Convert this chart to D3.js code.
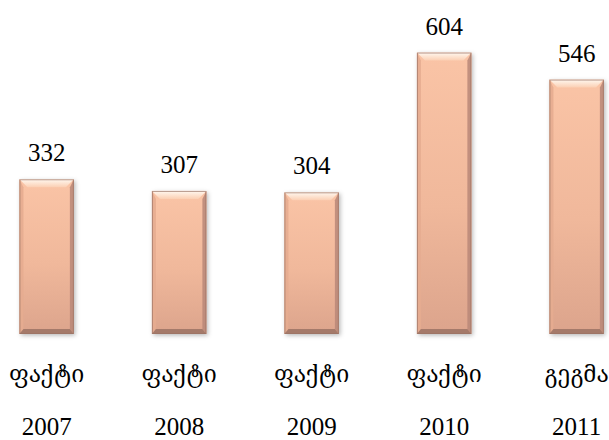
<!DOCTYPE html>
<html>
<head>
<meta charset="utf-8">
<script src="https://cdn.jsdelivr.net/npm/d3@7"></script>
<style>
  html, body { margin: 0; padding: 0; background: #fff; }
  svg { display: block; }
</style>
</head>
<body>
<svg id="chart" width="609" height="440"></svg>
<script>
const categories = ["ფაქტი", "ფაქტი", "ფაქტი", "ფაქტი", "გეგმა"];
const years = ["2007", "2008", "2009", "2010", "2011"];
const values = [332, 307, 304, 604, 546];

const svg = d3.select("#chart");
const baseline = 334;
const NUM_FONT = "Liberation Serif";
const GEO_FONT = "Noto Serif Georgian";

const x = d3.scaleBand()
  .domain(d3.range(values.length))
  .range([-19.6, 642.9])
  .paddingInner(0.589)
  .paddingOuter(0.2945);

const y = d3.scaleLinear()
  .domain([0, 700])
  .range([baseline, baseline - 0.466 * 700]);

const defs = svg.append("defs");
const grad = defs.append("linearGradient").attr("id", "barFill")
  .attr("x1", 0).attr("y1", 0).attr("x2", 0).attr("y2", 1);
grad.append("stop").attr("offset", "0%").attr("stop-color", "#FAC4A6");
grad.append("stop").attr("offset", "55%").attr("stop-color", "#F0B89B");
grad.append("stop").attr("offset", "100%").attr("stop-color", "#DCA48C");

const topGrad = defs.append("linearGradient").attr("id", "topBevel")
  .attr("x1", 0).attr("y1", 0).attr("x2", 0).attr("y2", 1);
topGrad.append("stop").attr("offset", "0%").attr("stop-color", "#FFF8F0");
topGrad.append("stop").attr("offset", "100%").attr("stop-color", "#FBCFB3");

const shadow = defs.append("filter").attr("id", "shadow")
  .attr("x", "-30%").attr("y", "-10%").attr("width", "160%").attr("height", "125%");
shadow.append("feDropShadow").attr("dx", 1.5).attr("dy", 1.5).attr("stdDeviation", 2)
  .attr("flood-color", "#000").attr("flood-opacity", 0.28);

const b = 8;

const bars = svg.append("g").selectAll("g.bar")
  .data(values)
  .join("g").attr("class", "bar");

const pts = arr => arr.map(p => p.join(",")).join(" ");

bars.each(function(d, i) {
  const g = d3.select(this);
  const bx = x(i), bw = x.bandwidth();
  const by = y(d), bh = y(0) - y(d);
  g.append("rect")
    .attr("x", bx).attr("y", by).attr("width", bw).attr("height", bh)
    .attr("fill", "url(#barFill)")
    .attr("filter", "url(#shadow)");
  g.append("polygon")
    .attr("points", pts([[bx, by], [bx + bw, by], [bx + bw - b, by + b], [bx + b, by + b]]))
    .attr("fill", "url(#topBevel)");
  g.append("polygon")
    .attr("points", pts([[bx, by], [bx + 4, by + b], [bx + 4, by + bh - 5], [bx, by + bh]]))
    .attr("fill", "#E6AC90").attr("opacity", 0.9);
  g.append("polygon")
    .attr("points", pts([[bx + bw, by], [bx + bw - 4, by + b], [bx + bw - 4, by + bh - 5], [bx + bw, by + bh]]))
    .attr("fill", "#B88778").attr("opacity", 0.85);
  g.append("polygon")
    .attr("points", pts([[bx, by + bh], [bx + 4, by + bh - 5], [bx + bw - 4, by + bh - 5], [bx + bw, by + bh]]))
    .attr("fill", "#9E7666").attr("opacity", 0.9);
  g.append("rect")
    .attr("x", bx + 0.5).attr("y", by + 0.5).attr("width", bw - 1).attr("height", bh - 1)
    .attr("fill", "none").attr("stroke", "#9B7465").attr("stroke-width", 1).attr("opacity", 0.7);
});

svg.append("g").selectAll("text")
  .data(values)
  .join("text")
  .attr("x", (d, i) => x(i) + x.bandwidth() / 2)
  .attr("y", d => y(d) - 18)
  .attr("text-anchor", "middle")
  .attr("font-family", NUM_FONT)
  .attr("font-size", 25)
  .attr("fill", "#000")
  .text(d => d);

const cat = svg.append("g");
cat.selectAll("text.cat")
  .data(categories)
  .join("text").attr("class", "cat")
  .attr("x", (d, i) => x(i) + x.bandwidth() / 2)
  .attr("y", 382)
  .attr("text-anchor", "middle")
  .attr("font-family", GEO_FONT)
  .attr("font-size", 23)
  .attr("fill", "#000")
  .text(d => d);
cat.selectAll("text.yr")
  .data(years)
  .join("text").attr("class", "yr")
  .attr("x", (d, i) => x(i) + x.bandwidth() / 2)
  .attr("y", 435)
  .attr("text-anchor", "middle")
  .attr("font-family", NUM_FONT)
  .attr("font-size", 25)
  .attr("fill", "#000")
  .text(d => d);
</script>
</body>
</html>
